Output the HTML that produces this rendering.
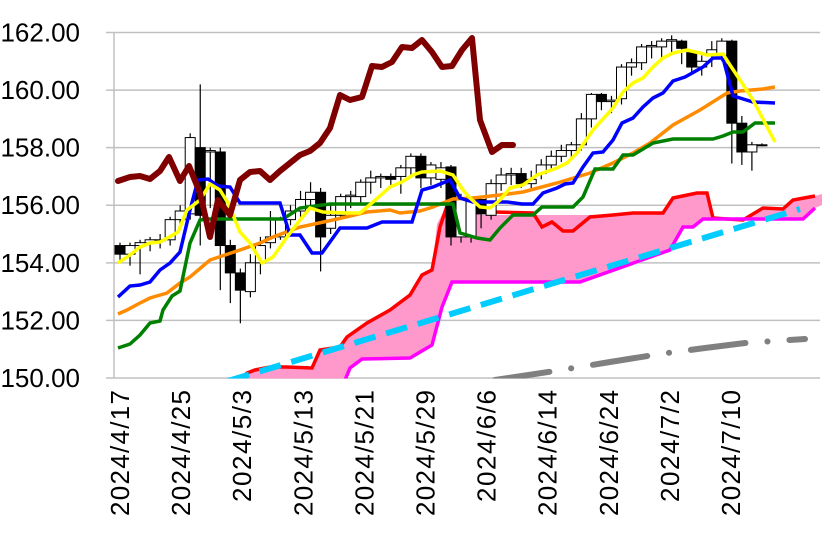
<!DOCTYPE html>
<html><head><meta charset="utf-8"><style>
html,body{margin:0;padding:0;background:#fff;}
svg{display:block;}
text{font-family:"Liberation Sans",sans-serif;fill:#000;}
</style></head><body>
<svg id="s" width="836" height="547" viewBox="0 0 836 547" xmlns="http://www.w3.org/2000/svg">
<defs><clipPath id="c"><rect x="114" y="0" width="710" height="378.5"/></clipPath></defs>
<g id="grid" stroke="#c0c0c0" stroke-width="1.5"></g>
<g id="ylab" font-size="26"></g>
<g id="xlab" font-size="26"></g>
<g clip-path="url(#c)">
<polygon fill="#ff99cc" points="247,373 255,370 270,367 287,367 312,368 320,350 340,347 347,337 367,323 390,310 410,295 422,275 432,270 437,224 448,203 450,200 453,200 473,202 480,215 560,215 600,215 633,213 663,213 673,198 697,193 707,193 713,218 727,219 743,220 763,208 783,209 793,200 815,196 822,194 822,205 815,208 803,219 703,219 693,227 683,227 670,250 580,282 452,282 442,307 432,345 410,358 362,359 350,368 345,380 247,380"/>
<polyline fill="none" stroke="#ff0000" stroke-width="3.5" points="240,380 247,373 255,370 270,367 287,367 312,368 320,350 340,347 347,337 367,323 390,310 410,295 422,275 432,270 440,227 448,203 453,200 473,202 493,212 533,213 542,227 552,222 563,231 573,231 590,217 613,215 633,213 663,213 673,198 697,193 707,193 713,218 727,219 743,220 763,208 783,209 793,200 815,196"/>
<polyline fill="none" stroke="#ff00ff" stroke-width="3.5" points="343,385 350,368 362,359 410,358 432,345 442,307 452,282 580,282 670,250 683,227 693,227 703,219 803,219 815,208"/>
<line x1="228" y1="381" x2="800" y2="209" stroke="#00ccff" stroke-width="6" stroke-dasharray="22 11"/>
<polyline fill="none" points="495,380 555,371 610,362 660,354 705,348 745,343 805,339" stroke="#808080" stroke-width="6" stroke-linecap="round" stroke-dasharray="55 22 0.1 22"/>
<g id="candles"></g>
<polyline fill="none" stroke="#ff8c00" stroke-width="3.5" points="118,314 127,310 140,303 150,298 167,293 180,283 190,277 210,260 240,250 260,243 273,237 300,227 333,220 367,212 390,210 400,213 420,211 433,207 453,199 473,198 500,195 523,192 557,183 590,173 613,163 633,153 650,143 673,125 700,110 727,93 740,91 763,89 775,87"/>
<polyline fill="none" stroke="#008000" stroke-width="3.5" points="118,348 130,344 140,335 150,323 160,321 163,310 172,296 180,291 190,243 200,220 207,219 283,219 300,208 330,204 453,204 460,233 467,235 477,238 490,240 500,228 513,215 533,215 542,207 573,207 583,197 595,169 613,169 623,155 633,155 653,143 673,139 713,139 723,136 733,132 743,132 755,123 775,123"/>
<polyline fill="none" stroke="#0000ff" stroke-width="3.5" points="118,297 130,286 140,285 150,282 160,270 170,263 180,252 190,210 198,180 208,179 218,186 230,187 240,203 280,203 290,235 300,235 312,253 322,253 340,228 367,228 382,222 412,222 422,190 433,187 450,180 460,198 473,202 507,202 522,204 533,204 543,193 557,188 565,184 573,183 583,167 593,153 603,152 613,140 622,123 633,118 643,107 653,98 663,93 673,81 685,77 703,67 713,58 723,58 733,96 740,98 753,102 775,103"/>
<polyline fill="none" stroke="#ffff00" stroke-width="3.5" points="118,263 130,255 140,247 150,243 160,242 178,232 187,210 200,200 210,184 220,190 228,203 240,232 250,243 262,263 273,257 287,237 300,220 310,208 323,212 347,213 360,213 373,202 390,187 402,182 413,175 422,172 440,171 453,175 463,190 470,198 480,207 490,208 500,200 510,188 523,185 537,175 557,168 567,163 577,153 593,130 613,108 623,92 633,83 643,78 653,67 663,58 673,53 687,50 700,53 707,55 723,54 730,65 740,80 753,100 775,142"/>
<polyline fill="none" stroke="#800000" stroke-width="6" stroke-linejoin="round" stroke-linecap="round" points="118,181 130,177 140,176 150,179 160,171 169,157 180,181 189,166 200,193 210,237 218,200 230,215 240,180 250,172 260,171 270,180 280,171 290,163 300,155 310,151 320,143 330,128 340,95 350,100 362,97 372,66 382,67 392,62 402,47 412,48 422,40 432,52 442,67 452,66 462,50 472,38 480,120 492,152 502,145 513,145"/>
</g>
</svg>
<script>
var ns="http://www.w3.org/2000/svg";
function Y(p){return 32.5+(162-p)*28.79;}
function el(t,a,par){var e=document.createElementNS(ns,t);for(var k in a)e.setAttribute(k,a[k]);par.appendChild(e);return e;}
var g=document.getElementById('grid'),yl=document.getElementById('ylab'),xl=document.getElementById('xlab');
for(var v=150;v<=162;v+=2){var y=Y(v);el('line',{x1:106,y1:y,x2:820,y2:y},g);
var t=el('text',{x:80,y:y+9,'text-anchor':'end'},yl);t.textContent=v.toFixed(2);}
el('line',{x1:114,y1:Y(162),x2:114,y2:Y(150)},g);
var labs=["2024/4/17","2024/4/25","2024/5/3","2024/5/13","2024/5/21","2024/5/29","2024/6/6","2024/6/14","2024/6/24","2024/7/2","2024/7/10"];
labs.forEach(function(s,i){var x=120+i*61.1+9;var t=el('text',{x:0,y:0,'text-anchor':'end',textLength:s.length*14,transform:'translate('+x+',390) rotate(-90)'},xl);t.textContent=s;});
var d=[[154.6,154.3,154.7,154.0],[154.3,154.6,154.7,153.9],[154.6,154.7,154.8,153.6],[154.7,154.8,154.9,154.4],[154.8,154.8,155.0,154.5],[154.8,155.5,155.6,154.6],[155.5,155.8,156.0,155.3],[155.7,158.35,158.5,155.5],[158.0,155.65,160.2,154.6],[157.85,157.9,158.0,155.9],[157.85,154.6,158.0,153.05],[154.6,153.65,154.8,152.6],[153.65,153.05,153.8,151.9],[153.0,154.0,154.3,152.8],[154.0,154.6,154.9,153.6],[154.7,154.9,155.8,154.5],[154.9,155.5,155.6,154.8],[155.5,155.8,156.0,155.3],[155.8,156.2,156.5,155.6],[156.2,156.45,156.8,156.0],[156.45,154.9,156.6,153.7],[155.2,155.65,156.0,155.0],[155.65,156.3,156.4,155.5],[156.3,156.35,156.5,155.9],[156.3,156.8,156.9,156.0],[156.8,156.95,157.2,156.4],[156.95,157.0,157.1,156.6],[157.0,156.9,157.1,156.6],[157.0,157.3,157.4,156.4],[157.3,157.7,157.8,157.0],[157.7,156.95,157.8,156.6],[156.95,157.4,157.5,156.7],[156.9,157.3,157.5,156.6],[157.33,154.9,157.4,154.6],[154.9,156.2,156.4,154.7],[154.9,156.2,156.3,154.7],[156.2,155.7,156.3,155.2],[155.65,156.75,156.9,155.5],[156.75,157.05,157.3,156.5],[157.05,157.1,157.3,156.7],[157.1,156.75,157.3,156.6],[156.75,156.9,157.2,156.5],[157.1,157.4,157.6,156.9],[157.4,157.7,157.9,157.2],[157.7,157.9,158.1,157.5],[157.9,158.1,158.2,157.6],[158.1,159.0,159.2,157.9],[159.0,159.85,159.9,158.7],[159.85,159.6,159.9,159.3],[159.6,159.65,159.8,159.2],[159.7,160.8,160.9,159.5],[160.8,160.95,161.1,160.5],[160.95,161.5,161.6,160.7],[161.5,161.55,161.7,161.1],[161.5,161.7,161.8,161.1],[161.7,161.75,161.9,161.3],[161.7,161.45,161.75,160.9],[161.3,160.8,161.4,160.6],[160.8,161.0,161.2,160.5],[161.2,161.4,161.7,160.8],[161.2,161.7,161.8,161.0],[161.7,158.85,161.75,157.45],[158.85,157.85,159.1,157.4],[157.85,158.1,158.2,157.2],[158.1,158.1,158.15,158.05]];
var c=document.getElementById('candles');
d.forEach(function(r,i){var x=120+i*10.03;var o=r[0],cl=r[1];
el('line',{x1:x,y1:Y(r[2]),x2:x,y2:Y(r[3]),stroke:'#000','stroke-width':1.2},c);
var top=Y(Math.max(o,cl)),bot=Y(Math.min(o,cl));var h=Math.max(bot-top,1);
el('rect',{x:x-5,y:top,width:10,height:h,fill:cl<o?'#000':'#fff',stroke:'#000','stroke-width':1},c);});
</script>
</body></html>
